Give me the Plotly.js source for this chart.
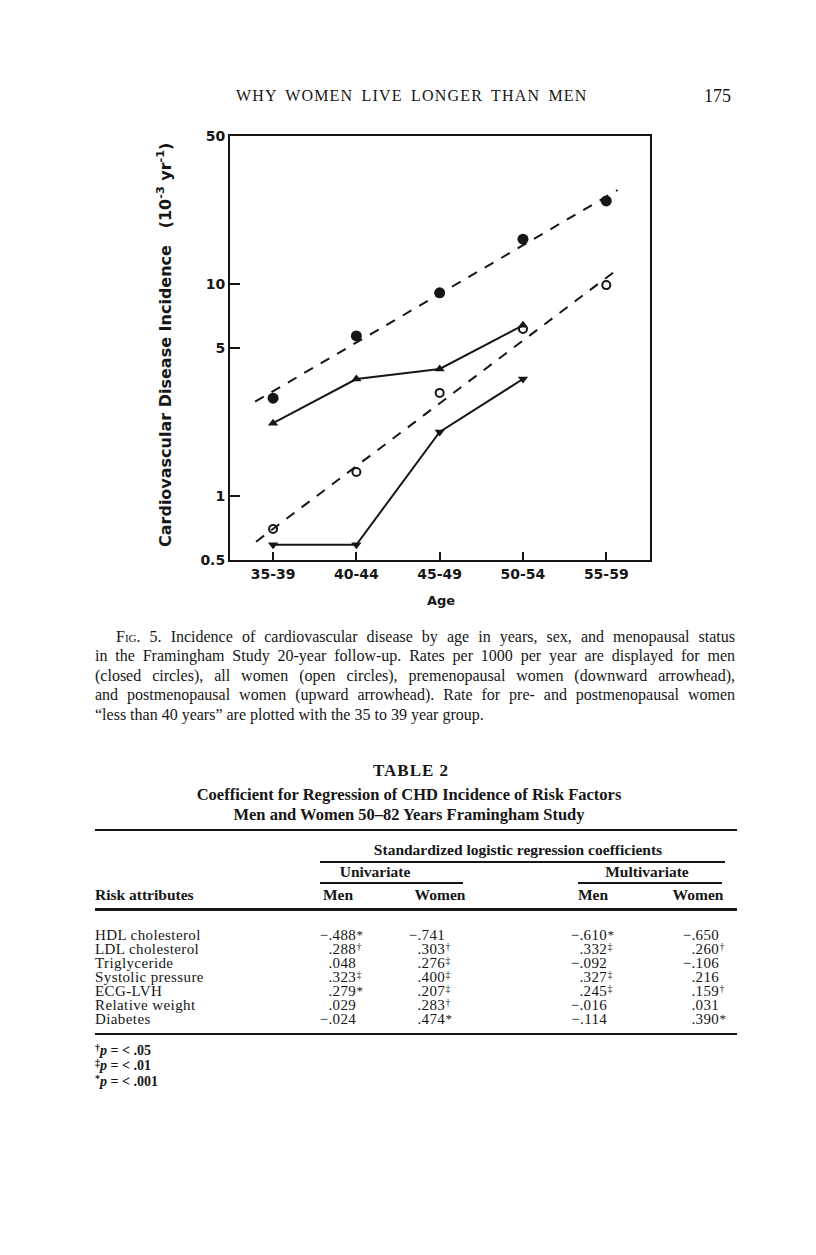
<!DOCTYPE html>
<html><head><meta charset="utf-8">
<script src="https://cdn.plot.ly/plotly-3.0.1.min.js"></script>
<style>
html,body{margin:0;padding:0;background:#fff;}
#page{position:relative;width:816px;height:1255px;overflow:hidden;background:#fff;}
#chart{position:absolute;left:0;top:0;width:816px;height:1255px;}
.t{position:absolute;white-space:nowrap;font-family:"Liberation Serif","Times New Roman",serif;color:#161616;}
.cap{position:absolute;font-family:"Liberation Serif","Times New Roman",serif;color:#161616;font-size:16px;line-height:19px;height:19px;text-align:justify;text-align-last:justify;}
.rule{position:absolute;background:#161616;}
.sup{font-size:10px;position:relative;top:-4px;}
</style></head><body>
<div id="page"><div id="chart"></div></div>
<script>
// ---------- chart data ----------
const ageGroups = ['35-39', '40-44', '45-49', '50-54', '55-59'];
const menRate = [2.9, 5.7, 9.1, 16.3, 24.7];
const allWomenRate = [0.70, 1.30, 3.07, 6.15, 9.9];
const postmenopausalRate = [2.21, 3.57, 3.98, 6.4];
const premenopausalRate = [0.59, 0.59, 2.01, 3.57];
const menTrendX = [-0.216, 4.136];
const menTrendRate = [2.79, 27.8];
const womenTrendX = [-0.204, 4.136];
const womenTrendRate = [0.61, 11.76];
const yTickVals = [0.5, 1, 5, 10, 50];
const yTickText = ['0.5', '1', '5', '10', '50'];

// ---------- table data ----------
const riskAttributes = ['HDL cholesterol', 'LDL cholesterol', 'Triglyceride', 'Systolic pressure', 'ECG-LVH', 'Relative weight', 'Diabetes'];
const univariateMen = [-0.488, 0.288, 0.048, 0.323, 0.279, 0.029, -0.024];
const univariateMenSig = ['*', '†', '', '‡', '*', '', ''];
const univariateWomen = [-0.741, 0.303, 0.276, 0.400, 0.207, 0.283, 0.474];
const univariateWomenSig = ['', '†', '‡', '‡', '‡', '†', '*'];
const multivariateMen = [-0.610, 0.332, -0.092, 0.327, 0.245, -0.016, -0.114];
const multivariateMenSig = ['*', '‡', '', '‡', '‡', '', ''];
const multivariateWomen = [-0.650, 0.260, -0.106, 0.216, 0.159, 0.031, 0.390];
const multivariateWomenSig = ['', '†', '', '', '†', '', '*'];
const footnotes = [['†', '.05'], ['‡', '.01'], ['*', '.001']];

const W = 816, H = 1255;
const PL = 230, PR = 650, PT = 136, PB = 560;
const idx = ageGroups.map((g, i) => i);
const ink = '#161616';
const chartFont = 'DejaVu Sans, Verdana, sans-serif';

const traces = [
  {x: menTrendX, y: menTrendRate, mode: 'lines', line: {color: ink, width: 2, dash: '10px,9px'}},
  {x: womenTrendX, y: womenTrendRate, mode: 'lines', line: {color: ink, width: 2, dash: '10px,9px'}},
  {x: idx.slice(0, postmenopausalRate.length), y: postmenopausalRate, mode: 'lines+markers',
   line: {color: ink, width: 2}, marker: {symbol: 'triangle-up', size: 9, color: ink}},
  {x: idx.slice(0, premenopausalRate.length), y: premenopausalRate, mode: 'lines+markers',
   line: {color: ink, width: 2}, marker: {symbol: 'triangle-down', size: 9, color: ink}},
  {x: idx, y: menRate, mode: 'markers', marker: {symbol: 'circle', size: 11, color: ink}},
  {x: idx, y: allWomenRate, mode: 'markers', marker: {symbol: 'circle-open', size: 8, color: ink, line: {width: 2, color: ink}}}
];

const axisCommon = {
  showline: true, linewidth: 2, linecolor: ink, mirror: true, showgrid: false, zeroline: false,
  ticks: 'inside', tickwidth: 2, tickcolor: ink,
  tickfont: {family: chartFont, size: 14, weight: 'bold', color: ink}
};

const layout = {
  width: W, height: H, margin: {l: 0, r: 0, t: 0, b: 0},
  paper_bgcolor: 'rgba(0,0,0,0)', plot_bgcolor: 'rgba(0,0,0,0)', showlegend: false,
  xaxis: Object.assign({}, axisCommon, {
    domain: [PL / W, PR / W], range: [-0.517, 4.525],
    tickvals: idx, ticktext: ageGroups, ticklen: 8
  }),
  yaxis: Object.assign({}, axisCommon, {
    domain: [1 - PB / H, 1 - PT / H], type: 'log', range: [Math.log10(0.5), Math.log10(50)],
    tickvals: yTickVals, ticktext: yTickText, ticklen: 10
  }),
  annotations: [
    {xref: 'paper', yref: 'paper', x: 164 / W, y: 1 - 345 / H, xanchor: 'center', yanchor: 'middle',
     textangle: -90, showarrow: false,
     text: 'Cardiovascular Disease Incidence   (10<sup>-3</sup> yr<sup>-1</sup>)',
     font: {family: chartFont, size: 16, weight: 'bold', color: ink}},
    {xref: 'paper', yref: 'paper', x: 441 / W, y: 1 - 601 / H, xanchor: 'center', yanchor: 'middle',
     showarrow: false, text: 'Age', font: {family: chartFont, size: 13, weight: 'bold', color: ink}}
  ]
};

Plotly.newPlot('chart', traces, layout, {staticPlot: true, displayModeBar: false});

// ---------- page text ----------
const page = document.getElementById('page');
function put(html, x, yc, opt) {
  opt = opt || {};
  const lh = opt.lh || 20;
  const d = document.createElement('div');
  d.className = 't';
  d.innerHTML = html;
  d.style.top = (yc - lh / 2) + 'px';
  d.style.height = lh + 'px';
  d.style.lineHeight = lh + 'px';
  if (opt.align === 'center') { d.style.left = (x - 400) + 'px'; d.style.width = '800px'; d.style.textAlign = 'center'; }
  else if (opt.align === 'right') { d.style.left = (x - 300) + 'px'; d.style.width = '300px'; d.style.textAlign = 'right'; }
  else d.style.left = x + 'px';
  d.style.fontSize = (opt.size || 14) + 'px';
  if (opt.bold) d.style.fontWeight = 'bold';
  if (opt.ls) d.style.letterSpacing = opt.ls + 'px';
  if (opt.ws) d.style.wordSpacing = opt.ws + 'px';
  page.appendChild(d);
  return d;
}
function rule(x1, x2, y, h) {
  const d = document.createElement('div');
  d.className = 'rule';
  d.style.left = x1 + 'px'; d.style.width = (x2 - x1) + 'px';
  d.style.top = (y - h / 2) + 'px'; d.style.height = h + 'px';
  page.appendChild(d);
}

put('WHY WOMEN LIVE LONGER THAN MEN', 236, 96, {size: 16, ls: 1.2, ws: 3});
put('175', 731, 96, {size: 18, align: 'right'});

const captionLines = [
  '<span style="font-variant:small-caps">Fig</span>. 5. Incidence of cardiovascular disease by age in years, sex, and menopausal status',
  'in the Framingham Study 20-year follow-up. Rates per 1000 per year are displayed for men',
  '(closed circles), all women (open circles), premenopausal women (downward arrowhead),',
  'and postmenopausal women (upward arrowhead). Rate for pre- and postmenopausal women',
  '“less than 40 years” are plotted with the 35 to 39 year group.'
];
captionLines.forEach((ln, i) => {
  const d = document.createElement('div');
  d.className = 'cap';
  d.innerHTML = ln;
  const left = i === 0 ? 116 : 95;
  d.style.left = left + 'px';
  d.style.width = (735 - left) + 'px';
  d.style.top = (636 + i * 19.5 - 9.5) + 'px';
  if (i === captionLines.length - 1) d.style.textAlignLast = 'left';
  page.appendChild(d);
});

put('TABLE 2', 411, 771, {size: 17, bold: true, ls: 1, align: 'center'});
put('Coefficient for Regression of CHD Incidence of Risk Factors', 409, 795, {size: 16.5, bold: true, align: 'center'});
put('Men and Women 50–82 Years Framingham Study', 409, 815, {size: 16.5, bold: true, align: 'center', lh: 18});

rule(95, 737, 830, 2.2);
put('Standardized logistic regression coefficients', 518, 850, {size: 15.5, bold: true, align: 'center', lh: 18});
rule(320, 725, 862, 1.6);
put('Univariate', 375, 872, {size: 15.5, bold: true, align: 'center', lh: 18});
put('Multivariate', 647, 872, {size: 15.5, bold: true, align: 'center', lh: 18});
rule(320, 463, 883, 1.6);
rule(578, 722, 883, 1.6);
put('Risk attributes', 95, 895, {size: 15.5, bold: true, lh: 18});
put('Men', 338, 895, {size: 15.5, bold: true, align: 'center', lh: 18});
put('Women', 440, 895, {size: 15.5, bold: true, align: 'center', lh: 18});
put('Men', 593, 895, {size: 15.5, bold: true, align: 'center', lh: 18});
put('Women', 698, 895, {size: 15.5, bold: true, align: 'center', lh: 18});
rule(95, 737, 909, 3);

function fmt(v) { return (v < 0 ? '−' : '') + Math.abs(v).toFixed(3).replace(/^0/, ''); }
function mark(s) {
  if (s === '*') return '<span style="font-size:13px;position:relative;top:-1px">*</span>';
  return '<span class="sup">' + s + '</span>';
}
const columns = [
  [univariateMen, univariateMenSig, 356],
  [univariateWomen, univariateWomenSig, 445],
  [multivariateMen, multivariateMenSig, 607],
  [multivariateWomen, multivariateWomenSig, 719]
];
riskAttributes.forEach((name, r) => {
  const yc = 935 + r * 14;
  put(name, 95, yc, {size: 15, ls: 0.4, lh: 14});
  columns.forEach(([vals, sig, xr]) => {
    put(fmt(vals[r]), xr, yc, {size: 15, ls: 0.3, align: 'right', lh: 14});
    if (sig[r]) put(mark(sig[r]), xr + 0.5, yc, {size: 15, lh: 14});
  });
});
rule(95, 737, 1034, 2.5);

footnotes.forEach(([s, p], i) => {
  put('<span style="font-size:10px;position:relative;top:-4px">' + s + '</span><i>p</i> = &lt; ' + p, 95, 1050 + i * 15.5, {size: 14, bold: true, lh: 15});
});
</script>
</body></html>
